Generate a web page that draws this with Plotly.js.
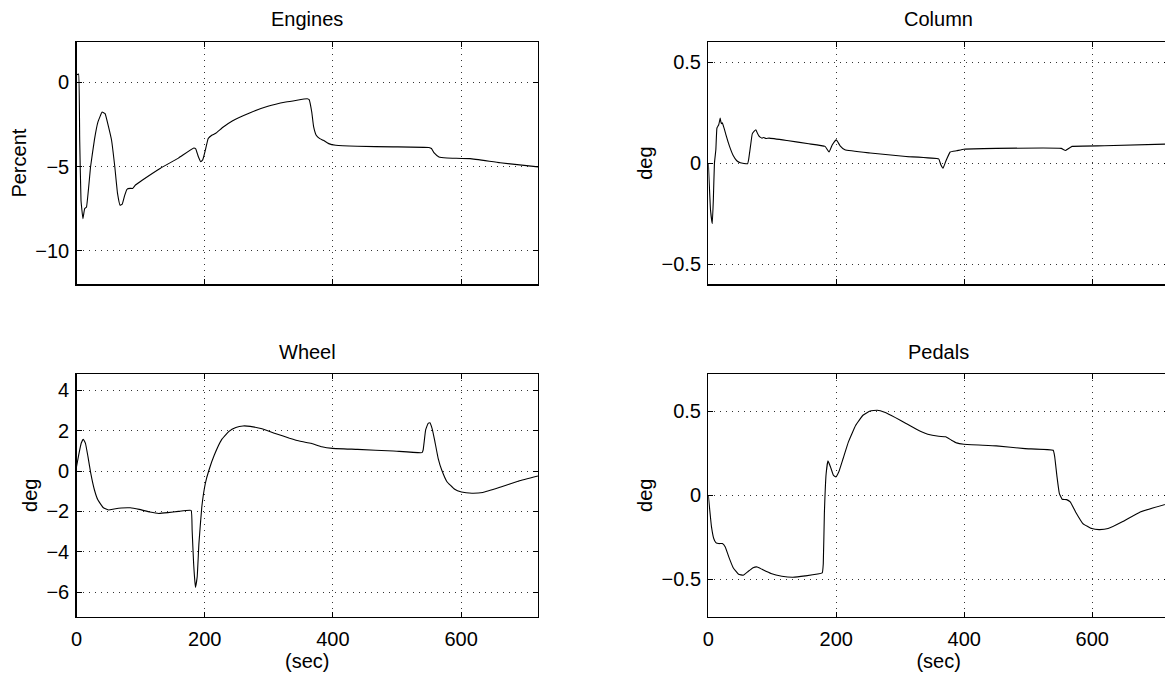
<!DOCTYPE html>
<html>
<head>
<meta charset="utf-8">
<script src="https://cdn.plot.ly/plotly-3.0.1.min.js"></script>
<style>
html,body{margin:0;padding:0;overflow:hidden;background:#fff;}
#chart{width:1170px;height:675px;}
</style>
</head>
<body>
<div id="chart"></div>
<script>
// ---- Data (time in seconds) ----
const engT = [0, 1.7, 3.3, 5, 7, 10, 12.8, 15.6, 22, 28, 33.5, 40, 44.6, 50, 54.7, 59.7, 64, 68, 71.4, 75.3, 79, 83.7, 87.6, 92, 103, 131, 159, 183, 186, 190, 194, 197, 201, 205.5, 211, 216.6, 229, 243, 271, 298.6, 326.5, 360, 363, 367, 370, 374, 379.5, 385, 393.5, 404.6, 438, 494, 549.8, 553.7, 558, 565.5, 578, 614, 661, 720];
const engV = [0.45, 0.47, 0.5, -3.4, -7.0, -8.1, -7.5, -7.4, -5.0, -3.4, -2.35, -1.76, -1.86, -2.65, -3.44, -5.0, -6.6, -7.3, -7.23, -6.7, -6.34, -6.3, -6.3, -6.1, -5.8, -5.1, -4.5, -3.9, -3.95, -4.4, -4.72, -4.6, -4.03, -3.34, -3.14, -3.04, -2.65, -2.29, -1.8, -1.42, -1.17, -0.97, -1.03, -1.76, -2.65, -3.14, -3.34, -3.44, -3.64, -3.74, -3.8, -3.83, -3.87, -3.93, -4.19, -4.43, -4.49, -4.53, -4.78, -5.02];

const colT = [0, 1.7, 3.4, 6.2, 7.9, 9.6, 11.8, 13.5, 16.3, 18.6, 19.6, 20.8, 22, 23, 25, 27.6, 33.2, 38.9, 44.5, 50, 61.4, 63, 65.9, 68.7, 71.5, 74.4, 77.2, 79, 81, 84, 86.8, 90, 95, 123, 157, 182.5, 188.7, 193.8, 200, 206, 213.5, 253, 309, 360, 363.4, 366.8, 371, 378, 388, 399.4, 450, 551.5, 558.3, 568.5, 619, 720];
const colV = [0, -0.116, -0.23, -0.30, -0.18, 0, 0.066, 0.174, 0.19, 0.223, 0.205, 0.195, 0.2, 0.19, 0.17, 0.14, 0.083, 0.038, 0.012, 0.002, -0.003, 0.017, 0.083, 0.145, 0.157, 0.165, 0.145, 0.135, 0.129, 0.124, 0.127, 0.122, 0.124, 0.112, 0.096, 0.083, 0.055, 0.091, 0.116, 0.086, 0.066, 0.05, 0.033, 0.021, -0.008, -0.025, 0.008, 0.055, 0.061, 0.069, 0.073, 0.073, 0.063, 0.083, 0.086, 0.095];

const whT = [0, 3.9, 7.3, 10.6, 14, 17.9, 22.3, 28, 33.5, 42, 50.3, 58.7, 70, 83.8, 97.8, 114.5, 128.5, 142.5, 159, 178.8, 180.4, 182.7, 185.5, 188.3, 191, 195.5, 201, 206.7, 215, 226, 237.4, 248.6, 259.8, 271, 287.7, 310, 332.4, 349, 366, 382.7, 399.4, 438.5, 494.4, 539, 540.8, 544.7, 548.6, 551.4, 554.7, 558.7, 564.2, 569.8, 578, 589.4, 600.6, 617, 634, 662, 690, 720];
const whV = [0.21, 0.87, 1.37, 1.57, 1.37, 0.71, -0.12, -0.94, -1.44, -1.82, -1.93, -1.88, -1.83, -1.82, -1.9, -2.03, -2.1, -2.06, -2.0, -1.95, -2.92, -4.57, -5.76, -5.23, -3.58, -1.77, -0.61, 0.05, 0.79, 1.53, 1.95, 2.15, 2.23, 2.21, 2.1, 1.86, 1.62, 1.47, 1.37, 1.2, 1.12, 1.07, 0.99, 0.91, 1.04, 2.03, 2.36, 2.39, 2.11, 1.53, 0.63, 0.05, -0.53, -0.89, -1.04, -1.1, -1.06, -0.79, -0.5, -0.25];

const pedT = [0, 2.3, 5, 8.5, 11.8, 16.3, 22, 26.5, 32, 38.9, 47.3, 54.6, 61.4, 70, 76.6, 84, 98, 115, 132, 151.5, 178, 179.7, 181.4, 184.2, 187, 191, 195.5, 199.4, 204, 210.7, 219, 230.4, 241.7, 253, 264, 275.5, 292.4, 309, 326, 343, 360, 371, 380, 388, 399.4, 450, 495, 539, 541.4, 545, 548.7, 553, 560, 565.6, 574, 585.4, 599.4, 610.7, 624.8, 647, 675, 720];
const pedV = [0, -0.089, -0.188, -0.257, -0.281, -0.287, -0.287, -0.307, -0.366, -0.43, -0.469, -0.475, -0.455, -0.43, -0.426, -0.44, -0.465, -0.481, -0.487, -0.479, -0.461, -0.406, -0.109, 0.129, 0.204, 0.168, 0.119, 0.109, 0.139, 0.218, 0.317, 0.416, 0.475, 0.5, 0.505, 0.493, 0.461, 0.426, 0.39, 0.362, 0.35, 0.347, 0.327, 0.311, 0.303, 0.293, 0.277, 0.267, 0.228, 0.109, 0.01, -0.024, -0.026, -0.04, -0.099, -0.168, -0.198, -0.204, -0.198, -0.158, -0.099, -0.048];

const titles = ["Engines", "Column", "Wheel", "Pedals"];
const yLabels = ["Percent", "deg", "deg", "deg"];
const xTicks = [0, 200, 400, 600];
const engTicks = [-10, -5, 0];
const colTicks = [-0.5, 0, 0.5];
const whTicks = [-6, -4, -2, 0, 2, 4];
const pedTicks = [-0.5, 0, 0.5];

// ---- Layout ----
const W = 1170, H = 675;
const FONT = "Liberation Sans, Arial, Helvetica, sans-serif";
const px2x = p => p / W;
const px2y = p => 1 - p / H;
const colL = [px2x(76.5), px2x(538)];
const colR = [px2x(708.3), px2x(1169)];
const rowT = [px2y(284.3), px2y(42)];
const rowB = [px2y(616.5), px2y(374)];

const traces = [
  {x: engT, y: engV, xaxis: "x", yaxis: "y"},
  {x: colT, y: colV, xaxis: "x2", yaxis: "y2"},
  {x: whT, y: whV, xaxis: "x3", yaxis: "y3"},
  {x: pedT, y: pedV, xaxis: "x4", yaxis: "y4"}
].map(t => Object.assign(t, {
  type: "scatter", mode: "lines", showlegend: false, hoverinfo: "skip",
  line: {color: "#000", width: 1.1, shape: "spline", smoothing: 0.3}
}));

function xa(domain, showLabels, anchor) {
  const a = {
    domain: domain, anchor: anchor, range: [0, 720],
    tickvals: xTicks, ticktext: xTicks.map(String),
    showticklabels: showLabels,
    ticks: "inside", ticklen: 5, tickcolor: "#000", tickwidth: 1,
    showline: true, linecolor: "#000", linewidth: 1.3, mirror: "ticks",
    showgrid: true, gridcolor: "#333", gridwidth: 1, griddash: "1px,5px",
    zeroline: false, fixedrange: true,
    tickfont: {family: FONT, size: 20, color: "#000"},
    ticklabelstandoff: 4
  };
  if (showLabels) a.title = {text: "(sec)", font: {family: FONT, size: 20, color: "#000"}, standoff: 4};
  return a;
}
function ya(domain, range, ticks, label, anchor) {
  return {
    domain: domain, anchor: anchor, range: range,
    tickvals: ticks,
    ticks: "inside", ticklen: 5, tickcolor: "#000", tickwidth: 1,
    showline: true, linecolor: "#000", linewidth: 1.3, mirror: "ticks",
    showgrid: true, gridcolor: "#333", gridwidth: 1, griddash: "1px,5px",
    zeroline: false, fixedrange: true,
    tickfont: {family: FONT, size: 20, color: "#000"},
    ticklabelstandoff: 2,
    title: {text: label, font: {family: FONT, size: 20, color: "#000"}, standoff: 3}
  };
}

const layout = {
  width: W, height: H,
  margin: {l: 0, r: 0, t: 0, b: 0},
  paper_bgcolor: "#fff", plot_bgcolor: "#fff",
  font: {family: FONT, size: 20, color: "#000"},
  xaxis: xa(colL, false, "y"),
  yaxis: ya(rowT, [-12, 2.4], engTicks, yLabels[0], "x"),
  xaxis2: xa(colR, false, "y2"),
  yaxis2: ya(rowT, [-0.6, 0.6], colTicks, yLabels[1], "x2"),
  xaxis3: xa(colL, true, "y3"),
  yaxis3: ya(rowB, [-7.2, 4.8], whTicks, yLabels[2], "x3"),
  xaxis4: xa(colR, true, "y4"),
  yaxis4: ya(rowB, [-0.72, 0.72], pedTicks, yLabels[3], "x4"),
  annotations: [
    {text: titles[0], x: (colL[0] + colL[1]) / 2, y: px2y(19.5)},
    {text: titles[1], x: (colR[0] + colR[1]) / 2, y: px2y(19.5)},
    {text: titles[2], x: (colL[0] + colL[1]) / 2, y: px2y(351.5)},
    {text: titles[3], x: (colR[0] + colR[1]) / 2, y: px2y(351.5)}
  ].map(a => Object.assign(a, {xref: "paper", yref: "paper", xanchor: "center", yanchor: "middle", showarrow: false, font: {family: FONT, size: 20, color: "#000"}}))
};

Plotly.newPlot("chart", traces, layout, {staticPlot: true, displayModeBar: false});
</script>
</body>
</html>
